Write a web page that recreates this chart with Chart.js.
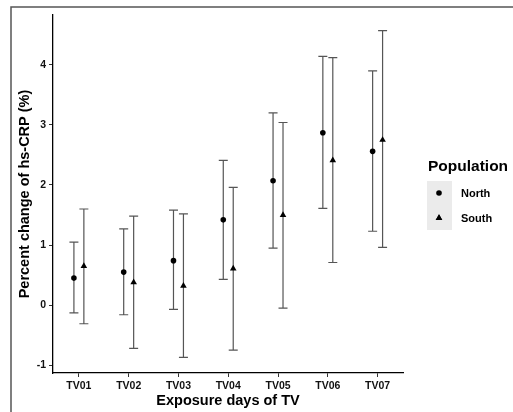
<!DOCTYPE html>
<html>
<head>
<meta charset="utf-8">
<script src="https://cdn.jsdelivr.net/npm/chart.js@4/dist/chart.umd.min.js"></script>
<style>
  html, body { margin: 0; padding: 0; background: #fff; }
  #wrap { width: 513px; height: 412px; }
</style>
</head>
<body>
<div id="wrap"><canvas id="c" width="513" height="412"></canvas></div>
<script>
// ── Data ─────────────────────────────────────────
var categories = ['TV01', 'TV02', 'TV03', 'TV04', 'TV05', 'TV06', 'TV07'];
var yTicks = [-1, 0, 1, 2, 3, 4];

var northMean  = [0.45, 0.55, 0.74, 1.42, 2.07, 2.87, 2.56];
var northLower = [-0.13, -0.16, -0.07, 0.43, 0.95, 1.61, 1.23];
var northUpper = [1.05, 1.27, 1.58, 2.41, 3.20, 4.14, 3.90];

var southMean  = [0.65, 0.38, 0.32, 0.61, 1.50, 2.41, 2.75];
var southLower = [-0.31, -0.72, -0.87, -0.75, -0.05, 0.71, 0.96];
var southUpper = [1.60, 1.48, 1.52, 1.96, 3.04, 4.12, 4.57];

var seriesNames = ['North', 'South'];
var legendTitle = 'Population';

(function () {
	'use strict';

	var font = "'Liberation Sans', Arial, sans-serif";
	var dodge = 0.1;

	function points(means, shift) {
		return means.map(function (v, i) { return { x: i + 1 + shift, y: v }; });
	}

	// whiskers drawn under the points, through the chart scales
	var errorBars = {
		id: 'errorBars',
		beforeDatasetsDraw: function (chart) {
			var ctx = chart.ctx;
			var xs = chart.scales.x, ys = chart.scales.y;
			var sets = [
				{ lo: northLower, hi: northUpper, shift: -dodge },
				{ lo: southLower, hi: southUpper, shift: dodge }
			];
			ctx.save();
			ctx.strokeStyle = '#555';
			ctx.lineWidth = 1.2;
			sets.forEach(function (s) {
				categories.forEach(function (c, i) {
					var px = xs.getPixelForValue(i + 1 + s.shift);
					var top = ys.getPixelForValue(s.hi[i]);
					var bot = ys.getPixelForValue(s.lo[i]);
					ctx.beginPath();
					ctx.moveTo(px, top); ctx.lineTo(px, bot);
					ctx.moveTo(px - 4.5, top); ctx.lineTo(px + 4.5, top);
					ctx.moveTo(px - 4.5, bot); ctx.lineTo(px + 4.5, bot);
					ctx.stroke();
				});
			});
			ctx.restore();
		}
	};

	// panel frame + ggplot-like legend on the right
	var decor = {
		id: 'decor',
		beforeDraw: function (chart) {
			var ctx = chart.ctx;
			ctx.save();
			ctx.strokeStyle = '#555';
			ctx.lineWidth = 1.5;
			ctx.beginPath();
			ctx.moveTo(11, 412); ctx.lineTo(11, 7); ctx.lineTo(513, 7);
			ctx.stroke();
			ctx.restore();
		},
		afterDraw: function (chart) {
			var ctx = chart.ctx;
			var area = chart.chartArea;
			var lx = area.right + 25;
			ctx.save();
			ctx.fillStyle = '#000';
			ctx.textBaseline = 'middle';
			ctx.font = 'bold 15.5px ' + font;
			ctx.fillText(legendTitle, lx, 167);

			ctx.fillStyle = '#ebebeb';
			ctx.fillRect(lx - 1, 181, 25, 49);

			seriesNames.forEach(function (name, k) {
				var ds = chart.data.datasets[k];
				var cy = 193 + k * 25;
				Chart.helpers.drawPoint(ctx, {
					pointStyle: ds.pointStyle,
					radius: ds.pointRadius,
					borderWidth: 0
				}, lx + 11, cy);
				ctx.fillStyle = '#000';
				ctx.fill();
				ctx.font = 'bold 11px ' + font;
				ctx.fillText(name, lx + 33, cy + 0.5);
			});
			ctx.restore();
		}
	};

	new Chart(document.getElementById('c'), {
		type: 'scatter',
		data: {
			datasets: [{
				label: seriesNames[0],
				data: points(northMean, -dodge),
				pointStyle: 'circle',
				pointRadius: 2.8,
				backgroundColor: '#000',
				borderColor: '#000',
				borderWidth: 0
			}, {
				label: seriesNames[1],
				data: points(southMean, dodge),
				pointStyle: 'triangle',
				pointRadius: 3.8,
				backgroundColor: '#000',
				borderColor: '#000',
				borderWidth: 0
			}]
		},
		options: {
			responsive: false,
			animation: false,
			layout: { padding: { left: 12, right: 110, top: 15, bottom: 0 } },
			plugins: {
				legend: { display: false },
				tooltip: { enabled: false }
			},
			scales: {
				x: {
					type: 'linear',
					min: 0.48,
					max: 7.51,
					afterFit: function (s) { s.height = 39; },
					afterBuildTicks: function (s) {
						s.ticks = categories.map(function (c, i) { return { value: i + 1 }; });
					},
					ticks: {
						padding: 3,
						color: '#111',
						font: { family: font, size: 10.5, weight: 'bold' },
						callback: function (v) { return categories[v - 1]; }
					},
					grid: { drawOnChartArea: false, tickLength: 4, color: '#333' },
					border: { display: true, color: '#000', width: 1.3 },
					title: {
						display: true,
						text: 'Exposure days of TV',
						color: '#000',
						padding: { top: 0, bottom: 2 },
						font: { family: font, size: 14.5, weight: 'bold' }
					}
				},
				y: {
					min: -1.13,
					max: 4.83,
					afterFit: function (s) { s.width = 41; },
					afterBuildTicks: function (s) {
						s.ticks = yTicks.map(function (v) { return { value: v }; });
					},
					ticks: {
						padding: 3,
						color: '#111',
						font: { family: font, size: 10.5, weight: 'bold' }
					},
					grid: { drawOnChartArea: false, tickLength: 4, color: '#333' },
					border: { display: true, color: '#000', width: 1.3 },
					title: {
						display: true,
						text: 'Percent change of hs-CRP (%)',
						color: '#000',
						padding: { top: 4, bottom: 0 },
						font: { family: font, size: 14.5, weight: 'bold' }
					}
				}
			}
		},
		plugins: [decor, errorBars]
	});
})();
</script>
</body>
</html>
